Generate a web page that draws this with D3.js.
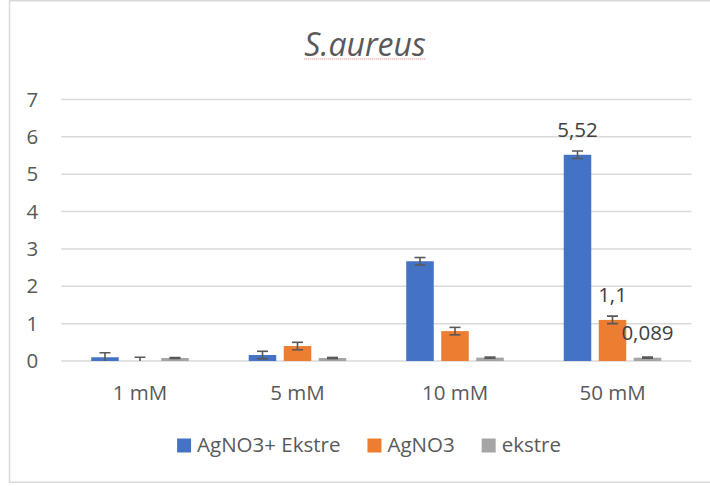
<!DOCTYPE html>
<html>
<head>
<meta charset="utf-8">
<script src="https://cdn.jsdelivr.net/npm/d3@7"></script>
<style>
  html, body { margin: 0; padding: 0; background: #fff; }
  svg { display: block; }
  text { font-family: "Open Sans", "Noto Sans", sans-serif; }
</style>
</head>
<body>
<svg id="chart" width="710" height="486"></svg>
<script>
// Concentrations on the x axis
const categories = ["1 mM", "5 mM", "10 mM", "50 mM"];
// Series names, as shown in the legend
const seriesNames = ["AgNO3+ Ekstre", "AgNO3", "ekstre"];
const seriesColors = ["#4472C4", "#ED7D31", "#A5A5A5"];
// Mean values per concentration
const agno3Ekstre = [0.10, 0.16, 2.67, 5.52];
const agno3 = [0.0, 0.40, 0.80, 1.1];
const ekstre = [0.08, 0.08, 0.09, 0.089];
// Error bar half-widths
const agno3EkstreErr = [0.12, 0.10, 0.10, 0.10];
const agno3Err = [0.1, 0.10, 0.10, 0.10];
const ekstreErr = [0.015, 0.015, 0.015, 0.015];
// Value axis ticks
const yTicks = [0, 1, 2, 3, 4, 5, 6, 7];
// Only the last concentration carries value labels
const labelledCategory = "50 mM";

const seriesValues = [agno3Ekstre, agno3, ekstre];
const seriesErrors = [agno3EkstreErr, agno3Err, ekstreErr];

const svg = d3.select("#chart");
const plotLeft = 61.25, plotRight = 691.25, plotTop = 99.5, plotBottom = 361;
const fontSize = 20.5;

// Chart area frame
svg.append("rect")
  .attr("x", 9.5).attr("y", 0.75)
  .attr("width", 720).attr("height", 481.5)
  .attr("fill", "#fff")
  .attr("stroke", "#d9d9d9").attr("stroke-width", 1.5);

const x = d3.scaleBand().domain(categories).range([plotLeft, plotRight]).padding(0);
const groupWidth = x.bandwidth() * 0.6667;
const xs = d3.scaleBand().domain(seriesNames)
  .range([-groupWidth / 2, groupWidth / 2])
  .paddingInner(0.214).paddingOuter(0.107);
const y = d3.scaleLinear().domain([0, 7]).range([plotBottom, plotTop]);

// Gridlines
svg.append("g")
  .selectAll("line").data(yTicks).join("line")
  .attr("x1", plotLeft).attr("x2", plotRight)
  .attr("y1", d => y(d)).attr("y2", d => y(d))
  .attr("stroke", "#d9d9d9").attr("stroke-width", 1.5);

// Y axis labels
const yAxis = d3.axisLeft(y).tickValues(yTicks).tickSize(0).tickPadding(0).tickFormat(d3.format("d"));
const yg = svg.append("g").attr("transform", `translate(${plotLeft - 23},0)`).call(yAxis);
yg.select(".domain").remove();
yg.selectAll("text").attr("font-size", fontSize).attr("fill", "#595959")
  .attr("font-family", "'Open Sans', sans-serif");

// X axis labels
const xAxis = d3.axisBottom(x).tickSize(0).tickPadding(0);
const xg = svg.append("g").attr("transform", `translate(0,${plotBottom + 24})`).call(xAxis);
xg.select(".domain").remove();
xg.selectAll("text").attr("font-size", fontSize).attr("fill", "#595959")
  .attr("font-family", "'Open Sans', sans-serif");

// Flattened bar records
const records = [];
seriesNames.forEach((s, si) => {
  categories.forEach((c, ci) => {
    records.push({ series: s, si, cat: c, value: seriesValues[si][ci], err: seriesErrors[si][ci] });
  });
});

// Bars
svg.append("g").selectAll("rect").data(records).join("rect")
  .attr("x", d => x(d.cat) + x.bandwidth() / 2 + xs(d.series))
  .attr("width", xs.bandwidth())
  .attr("y", d => y(d.value))
  .attr("height", d => y(0) - y(d.value))
  .attr("fill", d => seriesColors[d.si]);

// Error bars, clipped to the plot area
svg.append("clipPath").attr("id", "plotClip")
  .append("rect").attr("x", plotLeft).attr("y", 0).attr("width", plotRight - plotLeft).attr("height", plotBottom);
const eg = svg.append("g").attr("clip-path", "url(#plotClip)")
  .attr("stroke", "#595959").attr("stroke-width", 1.6).attr("fill", "none");
const capHalf = 5.5;
records.forEach(d => {
  const cx = x(d.cat) + x.bandwidth() / 2 + xs(d.series) + xs.bandwidth() / 2;
  const y1 = y(d.value + d.err), y2 = y(d.value - d.err);
  eg.append("line").attr("x1", cx).attr("x2", cx).attr("y1", y1).attr("y2", y2);
  eg.append("line").attr("x1", cx - capHalf).attr("x2", cx + capHalf).attr("y1", y1).attr("y2", y1);
  eg.append("line").attr("x1", cx - capHalf).attr("x2", cx + capHalf).attr("y1", y2).attr("y2", y2);
});

// Value labels
svg.append("g").selectAll("text")
  .data(records.filter(d => d.cat === labelledCategory)).join("text")
  .attr("x", d => x(d.cat) + x.bandwidth() / 2 + xs(d.series) + xs.bandwidth() / 2)
  .attr("y", d => y(d.value) - 18)
  .attr("text-anchor", "middle")
  .attr("font-size", fontSize).attr("fill", "#404040")
  .text(d => String(d.value).replace(".", ","));

// Title
const title = svg.append("text")
  .attr("x", 365).attr("y", 56)
  .attr("text-anchor", "middle")
  .attr("font-size", 32).attr("font-style", "italic").attr("fill", "#595959")
  .text("S.aureus");
const tb = title.node().getBBox();
svg.append("line")
  .attr("x1", tb.x).attr("x2", tb.x + tb.width)
  .attr("y1", 59).attr("y2", 59)
  .attr("stroke", "#e57373").attr("stroke-width", 1.2).attr("stroke-dasharray", "1,1");

// Legend
const legend = svg.append("g");
let cursor = 0;
seriesNames.forEach((s, i) => {
  const g = legend.append("g").attr("transform", `translate(${cursor},0)`);
  g.append("rect").attr("x", 0).attr("y", -13.5).attr("width", 14).attr("height", 14).attr("fill", seriesColors[i]);
  const t = g.append("text").attr("x", 20).attr("y", 0).attr("font-size", fontSize).attr("fill", "#595959").text(s);
  const w = 20 + t.node().getComputedTextLength();
  cursor += w + 27;
});
const totalW = cursor - 27;
legend.attr("transform", `translate(${369 - totalW / 2},452)`);
</script>
</body>
</html>
